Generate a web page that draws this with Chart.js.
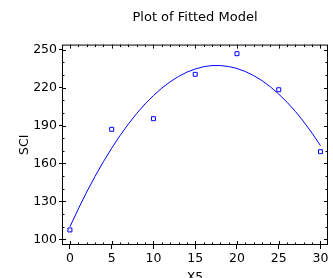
<!DOCTYPE html>
<html><head><meta charset="utf-8">
<script src="https://cdn.jsdelivr.net/npm/chart.js@4"></script>
<style>html,body{margin:0;padding:0;background:#fff}#wrap{width:333px;height:278px;position:relative}</style>
</head><body><div id="wrap"><canvas id="c" width="333" height="278"></canvas></div>
<script>
// Observed data
const obsX = [0, 5, 10, 15, 20, 25, 30];
const obsY = [107.4, 187.0, 195.4, 230.5, 246.8, 218.3, 169.3];
// Fitted curve
const fitX = [0,1,2,3,4,5,6,7,8,9,10,11,12,13,14,15,16,17,18,19,20,21,22,23,24,25,26,27,28,29,30];
const fitY = [109.9,124.0,137.3,149.7,161.3,172.1,182.1,191.2,199.6,207.1,213.7,219.6,224.6,228.8,232.2,234.7,236.5,237.4,237.4,236.7,235.1,232.7,229.5,225.5,220.6,214.9,208.4,201.1,192.9,183.9,174.1];
// Tick values
const xTicks = [0, 5, 10, 15, 20, 25, 30];
const yTicks = [100, 130, 160, 190, 220, 250];
const xMinor = [1,2,3,4,6,7,8,9,11,12,13,14,16,17,18,19,21,22,23,24,26,27,28,29];
const yMinor = [110,120,140,150,170,180,200,210,230,240];

const FONT = 'DejaVu Sans';
const BLUE = '#0000ff';

const frame = {
  id: 'frame',
  afterDraw(chart) {
    const {ctx, chartArea: a, scales: {x, y}} = chart;
    ctx.save();
    ctx.strokeStyle = '#000';
    ctx.lineWidth = 1;
    ctx.strokeRect(a.left + 0.5, a.top + 0.5, a.right - a.left - 1, a.bottom - a.top - 1);
    ctx.beginPath();
    const xt = (v, len) => {
      const p = Math.round(x.getPixelForValue(v)) + 0.5;
      ctx.moveTo(p, a.top); ctx.lineTo(p, a.top + len);
      ctx.moveTo(p, a.bottom); ctx.lineTo(p, a.bottom - len);
    };
    const yt = (v, len) => {
      const p = Math.round(y.getPixelForValue(v)) + 0.5;
      ctx.moveTo(a.left, p); ctx.lineTo(a.left + len, p);
      ctx.moveTo(a.right, p); ctx.lineTo(a.right - len, p);
    };
    xTicks.forEach(v => xt(v, 4));
    xMinor.forEach(v => xt(v, 2.5));
    yTicks.forEach(v => yt(v, 4));
    yMinor.forEach(v => yt(v, 2.5));
    ctx.stroke();
    ctx.restore();
  }
};

new Chart(document.getElementById('c'), {
  type: 'scatter',
  data: {
    datasets: [
      {
        data: fitX.map((v, i) => ({x: v, y: fitY[i]})),
        showLine: true, borderColor: BLUE, borderWidth: 1, pointRadius: 0, tension: 0, fill: false
      },
      {
        data: obsX.map((v, i) => ({x: v, y: obsY[i]})),
        showLine: false, pointStyle: 'rect', pointRadius: 2.8, borderColor: BLUE, borderWidth: 1,
        backgroundColor: 'rgba(0,0,0,0)'
      }
    ]
  },
  options: {
    responsive: false,
    animation: false,
    layout: {padding: {left: 0, right: 2, top: 0, bottom: 0}},
    plugins: {
      legend: {display: false},
      tooltip: {enabled: false},
      title: {
        display: true, text: 'Plot of Fitted Model', color: '#000', fullSize: false,
        font: {family: FONT, size: 13, weight: 'normal'},
        padding: {top: 10, bottom: 19}
      }
    },
    scales: {
      x: {
        type: 'linear', min: -0.95, max: 30.9,
        afterBuildTicks: s => { s.ticks = xTicks.map(v => ({value: v})); },
        afterFit: s => { s.height = 33; },
        grid: {display: true, drawOnChartArea: false, drawTicks: true, tickLength: 4, color: '#000'},
        border: {display: false},
        ticks: {color: '#000', font: {family: FONT, size: 12.5}, padding: 2, maxRotation: 0},
        title: {display: true, text: 'X5', color: '#000', font: {family: FONT, size: 12.5}, padding: {top: 0, bottom: -7}}
      },
      y: {
        type: 'linear', min: 95.5, max: 254,
        afterBuildTicks: s => { s.ticks = yTicks.map(v => ({value: v})); },
        afterFit: s => { s.width = 62; },
        grid: {display: true, drawOnChartArea: false, drawTicks: true, tickLength: 3, color: '#000'},
        border: {display: false},
        ticks: {color: '#000', font: {family: FONT, size: 12.5}, padding: 2},
        title: {display: true, text: 'SCI', color: '#000', font: {family: FONT, size: 12.5}, padding: {top: 17, bottom: 0}}
      }
    }
  },
  plugins: [frame]
});
</script>
</body></html>
